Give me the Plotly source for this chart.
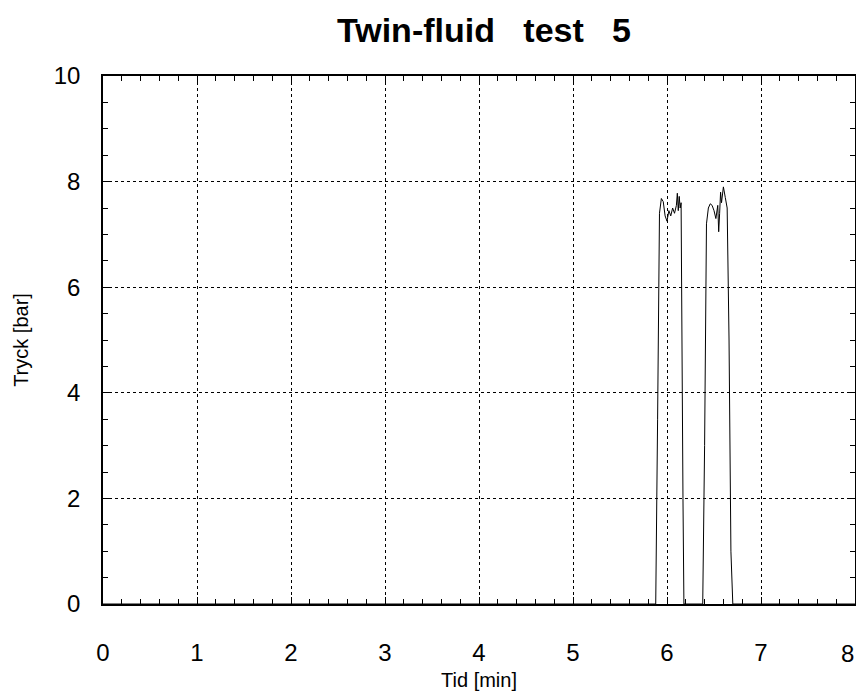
import plotly.graph_objs as go

# Tid [min] och Tryck [bar], avläst från kurvan
tid = [0.0, 5.88, 5.90, 5.92, 5.94, 5.96, 5.98, 6.00, 6.02, 6.04, 6.06, 6.08,
       6.10, 6.11, 6.12, 6.13, 6.14, 6.15, 6.17, 6.18,
       6.38, 6.40, 6.42, 6.44, 6.46, 6.48, 6.50, 6.52, 6.54, 6.55, 6.56, 6.57,
       6.58, 6.60, 6.62, 6.64, 6.66, 6.68, 6.70, 8.0]
tryck = [0.0, 0.0, 3.5, 7.4, 7.68, 7.62, 7.35, 7.25, 7.45, 7.35, 7.5, 7.4,
         7.55, 7.78, 7.45, 7.72, 7.5, 7.6, 2.0, 0.0,
         0.0, 3.0, 7.2, 7.5, 7.58, 7.55, 7.45, 7.3, 7.55, 7.05, 7.4, 7.8,
         7.6, 7.9, 7.7, 7.5, 5.0, 1.0, 0.0, 0.0]

x_ticks = [0, 1, 2, 3, 4, 5, 6, 7, 8]
x_tick_text = ['0', '1', '2', '3', '4', '5', '6', '7', '8']
y_ticks = [0, 2, 4, 6, 8, 10]

FONT = 'Liberation Sans, Arial, sans-serif'

fig = go.Figure()

fig.add_trace(go.Scatter(x=tid, y=tryck, mode='lines',
                         line=dict(color='black', width=1),
                         showlegend=False))

tick_font = dict(family=FONT, size=24, color='black')

# the last label would run past the page edge, so it is drawn
# right-aligned at its tick instead (like in the original)
fig.add_annotation(x=x_ticks[-1], xref='x', y=0, yref='paper',
                   text=x_tick_text[-1], showarrow=False,
                   xanchor='right', yanchor='middle', xshift=1, yshift=-49,
                   font=tick_font)

# page has an 8px body margin, keep the figure inside the window
fig.update_layout(
    width=848, height=685,
    paper_bgcolor='white', plot_bgcolor='white',
    margin=dict(l=95, r=1, t=68, b=89),
    title=dict(text='<b>Twin-fluid   test   5</b>', x=476 / 848, xanchor='center',
               y=1 - 22 / 685, yanchor='middle',
               font=dict(family=FONT, size=34, color='black')),
    xaxis=dict(range=[0, 8], tickvals=x_ticks, ticktext=x_tick_text[:-1] + [''],
               showgrid=True, automargin=False,
               gridcolor='black', griddash='dot', gridwidth=1,
               showline=True, linecolor='black', linewidth=1.5, mirror='ticks',
               ticks='inside', ticklen=7, tickcolor='black',
               minor=dict(dtick=0.2, ticks='inside', ticklen=5, tickcolor='black', showgrid=False),
               tickfont=tick_font, ticklabelstandoff=26, zeroline=False,
               title=dict(text='Tid [min]', standoff=8,
                          font=dict(family=FONT, size=20, color='black'))),
    yaxis=dict(range=[0, 10], tickvals=y_ticks, showgrid=True, automargin=False,
               gridcolor='black', griddash='dot', gridwidth=1,
               showline=True, linecolor='black', linewidth=1.5, mirror='ticks',
               ticks='inside', ticklen=7, tickcolor='black',
               minor=dict(dtick=0.5, ticks='inside', ticklen=5, tickcolor='black', showgrid=False),
               tickfont=tick_font, ticklabelstandoff=16, zeroline=False,
               title=dict(text='Tryck [bar]', standoff=20,
                          font=dict(family=FONT, size=20, color='black'))),
)

fig.write_html("out.html")
